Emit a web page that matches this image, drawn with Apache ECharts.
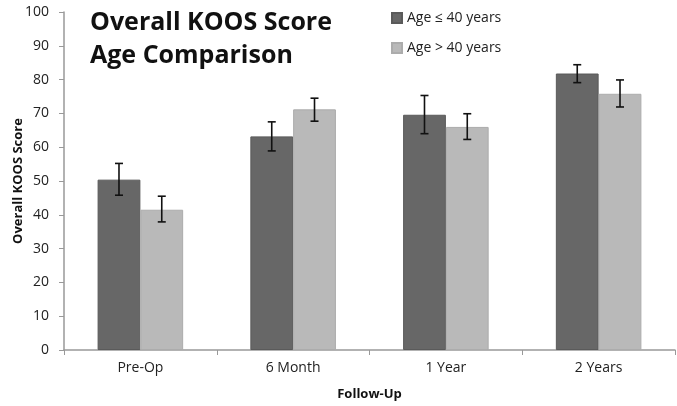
<!DOCTYPE html>
<html><head><meta charset="utf-8">
<script src="https://cdn.jsdelivr.net/npm/echarts@6/dist/echarts.min.js"></script>
<style>html,body{margin:0;padding:0;background:#fff}#c{width:677px;height:406px}</style>
</head><body><div id="c"></div>
<script>
const categories = ['Pre-Op', '6 Month', '1 Year', '2 Years'];
const seriesNames = ['Age \u2264 40 years', 'Age > 40 years'];
const youngMean = [50.4, 63.2, 69.6, 81.8];
const youngLow = [45.8, 58.9, 64.0, 79.1];
const youngHigh = [55.2, 67.5, 75.3, 84.4];
const oldMean = [41.5, 71.2, 66.0, 75.8];
const oldLow = [37.9, 67.7, 62.3, 71.9];
const oldHigh = [45.5, 74.5, 69.9, 79.9];
const yTicks = [0, 10, 20, 30, 40, 50, 60, 70, 80, 90, 100];

const FONT = '"Open Sans", sans-serif';
const BAR_FRAC = 0.28;

function errData(low, high) {
  return categories.map((c, i) => [i, low[i], high[i]]);
}
function errSeries(name, low, high, side) {
  return {
    type: 'custom', name: name + ' err', silent: true, z: 10,
    data: errData(low, high),
    renderItem: function (params, api) {
      const band = api.size([1, 0])[0];
      const off = side * band * BAR_FRAC / 2;
      const lo = api.coord([api.value(0), api.value(1)]);
      const hi = api.coord([api.value(0), api.value(2)]);
      const x = lo[0] + off, cap = 4;
      const st = { stroke: '#111', lineWidth: 1.6 };
      return { type: 'group', children: [
        { type: 'line', shape: { x1: x, y1: lo[1], x2: x, y2: hi[1] }, style: st },
        { type: 'line', shape: { x1: x - cap, y1: lo[1], x2: x + cap, y2: lo[1] }, style: st },
        { type: 'line', shape: { x1: x - cap, y1: hi[1], x2: x + cap, y2: hi[1] }, style: st }
      ]};
    }
  };
}

const chart = echarts.init(document.getElementById('c'), null, { renderer: 'canvas' });
chart.setOption({
  animation: false,
  textStyle: { fontFamily: FONT },
  title: {
    text: 'Overall KOOS Score\nAge Comparison',
    left: 85, top: 1,
    textStyle: { fontFamily: FONT, fontSize: 25, fontWeight: 'bold', color: '#111', lineHeight: 33 }
  },
  legend: {
    data: seriesNames,
    orient: 'vertical', left: 386, top: 6, itemGap: 16,
    itemWidth: 10, itemHeight: 10, icon: 'rect',
    textStyle: { fontFamily: FONT, fontSize: 14, color: '#222' }
  },
  grid: { left: 64, right: 2, top: 12, bottom: 56, containLabel: false, outerBoundsMode: 'none' },
  xAxis: {
    type: 'category', data: categories,
    name: 'Follow-Up', nameLocation: 'middle', nameGap: 38, nameMoveOverlap: false,
    nameTextStyle: { fontFamily: FONT, fontSize: 13, fontWeight: 'bold', color: '#111' },
    axisLine: { lineStyle: { color: '#999', width: 1.5 } },
    axisTick: { show: true, length: 5, lineStyle: { color: '#999' } },
    axisLabel: { fontSize: 14, color: '#222', margin: 11 }
  },
  yAxis: {
    type: 'value', min: yTicks[0], max: yTicks[yTicks.length - 1], interval: 10,
    name: 'Overall KOOS Score', nameLocation: 'middle', nameGap: 39, nameRotate: 90, nameMoveOverlap: false,
    nameTextStyle: { fontFamily: FONT, fontSize: 13, fontWeight: 'bold', color: '#111' },
    axisLine: { show: true, lineStyle: { color: '#999', width: 1.5 } },
    axisTick: { show: true, length: 5, lineStyle: { color: '#999' } },
    axisLabel: { fontSize: 14, color: '#222', margin: 15 },
    splitLine: { show: false }
  },
  series: [
    { type: 'bar', name: seriesNames[0], data: youngMean, barWidth: (BAR_FRAC * 100) + '%', barGap: '0%',
      itemStyle: { color: '#676767', borderColor: '#5a5a5a', borderWidth: 1 } },
    { type: 'bar', name: seriesNames[1], data: oldMean, barWidth: (BAR_FRAC * 100) + '%', barGap: '0%',
      itemStyle: { color: '#b9b9b9', borderColor: '#acacac', borderWidth: 1 } },
    errSeries(seriesNames[0], youngLow, youngHigh, -1),
    errSeries(seriesNames[1], oldLow, oldHigh, 1)
  ]
});
</script></body></html>
